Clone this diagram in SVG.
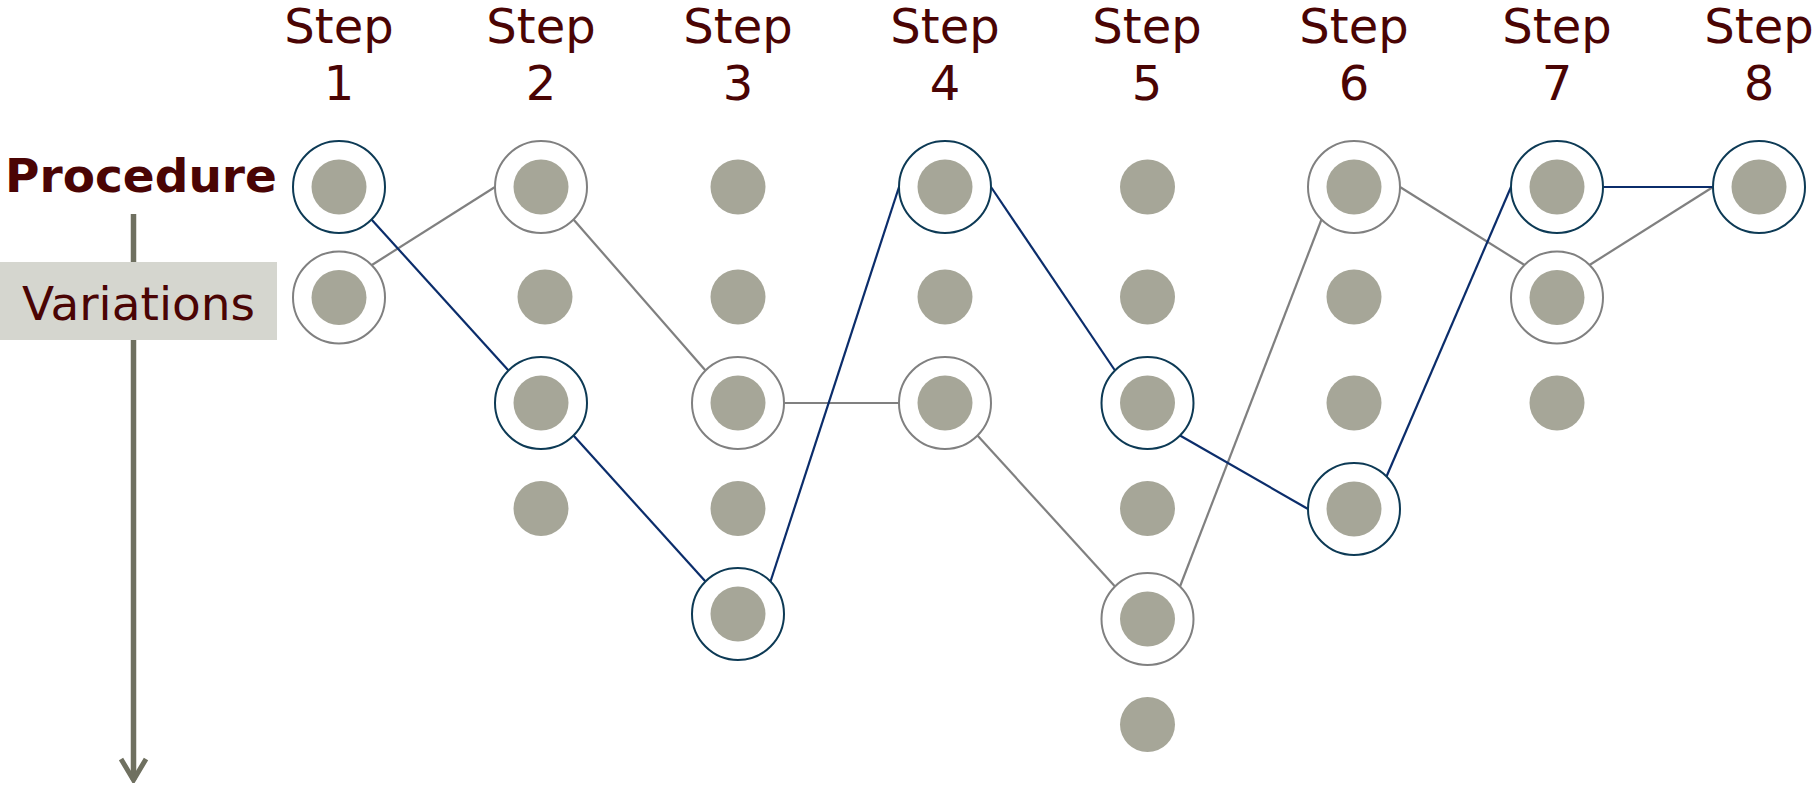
<svg xmlns="http://www.w3.org/2000/svg" width="1812" height="785" viewBox="0 0 1812 785">
<defs>
<style>
.lbl{font-family:"DejaVu Sans",Verdana,sans-serif;font-size:48px;fill:#4a0404;text-anchor:middle}
.dot{fill:#a6a698}
.rb{fill:#fff;stroke:#0d3a55;stroke-width:2}
.rg{fill:#fff;stroke:#808080;stroke-width:2}
.cb{stroke:#0b2d6b;stroke-width:2.2;fill:none}
.cg{stroke:#808080;stroke-width:2.2;fill:none}
</style>
<marker id="chev" viewBox="0 0 26 30" refX="23" refY="15" markerWidth="26" markerHeight="30" markerUnits="userSpaceOnUse" orient="auto">
<polyline points="2,2.5 23,15 2,27.5" fill="none" stroke="#6f7060" stroke-width="5" stroke-linejoin="miter"/>
</marker>
</defs>
<rect width="1812" height="785" fill="#fff"/>

<g id="axis">
<line x1="133.5" y1="214" x2="133.5" y2="780" stroke="#6f7060" stroke-width="5.5" marker-end="url(#chev)"/>
</g>

<g id="labels">
<text class="lbl" x="339" y="43">Step</text><text class="lbl" x="339" y="100">1</text>
<text class="lbl" x="541" y="43">Step</text><text class="lbl" x="541" y="100">2</text>
<text class="lbl" x="738" y="43">Step</text><text class="lbl" x="738" y="100">3</text>
<text class="lbl" x="945" y="43">Step</text><text class="lbl" x="945" y="100">4</text>
<text class="lbl" x="1147" y="43">Step</text><text class="lbl" x="1147" y="100">5</text>
<text class="lbl" x="1354" y="43">Step</text><text class="lbl" x="1354" y="100">6</text>
<text class="lbl" x="1557" y="43">Step</text><text class="lbl" x="1557" y="100">7</text>
<text class="lbl" x="1759" y="43">Step</text><text class="lbl" x="1759" y="100">8</text>
<text class="lbl" x="141" y="192" style="font-weight:bold;font-size:47px">Procedure</text>
</g>

<g id="variations">
<rect x="0" y="262" width="277" height="78" fill="#d5d6cf"/>
<text class="lbl" x="138.5" y="320" style="font-size:47px">Variations</text>
</g>

<g id="connectors">
<line class="cg" x1="371.5" y1="265.2" x2="495" y2="187"/>
<line class="cg" x1="573.5" y1="219.5" x2="705.5" y2="370.5"/>
<line class="cg" x1="784" y1="403" x2="899" y2="403"/>
<line class="cg" x1="977.5" y1="435.5" x2="1115" y2="586.5"/>
<line class="cg" x1="1180" y1="586.5" x2="1321.5" y2="219.5"/>
<line class="cg" x1="1400" y1="187" x2="1524.5" y2="265"/>
<line class="cg" x1="1589.5" y1="265" x2="1713" y2="187"/>
<line class="cb" x1="371.5" y1="219.5" x2="508.5" y2="370.5"/>
<line class="cb" x1="573.5" y1="435.5" x2="705.5" y2="581.5"/>
<line class="cb" x1="770.5" y1="581.5" x2="899" y2="187"/>
<line class="cb" x1="991" y1="187" x2="1115" y2="370.5"/>
<line class="cb" x1="1180" y1="435.5" x2="1308" y2="509"/>
<line class="cb" x1="1386.5" y1="476.5" x2="1511" y2="187"/>
<line class="cb" x1="1603" y1="187" x2="1713" y2="187"/>
</g>

<g id="s1r1"><circle class="rb" cx="339" cy="187" r="46"/><circle class="dot" cx="339" cy="187" r="27.5"/></g>
<g id="s1r2"><circle class="rg" cx="339" cy="297.5" r="46"/><circle class="dot" cx="339" cy="297.5" r="27.5"/></g>

<g id="s2r1"><circle class="rg" cx="541" cy="187" r="46"/><circle class="dot" cx="541" cy="187" r="27.5"/></g>
<g id="s2r2"><circle class="dot" cx="545" cy="297" r="27.5"/></g>
<g id="s2r3"><circle class="rb" cx="541" cy="403" r="46"/><circle class="dot" cx="541" cy="403" r="27.5"/></g>
<g id="s2r4"><circle class="dot" cx="541" cy="508.5" r="27.5"/></g>

<g id="s3r1"><circle class="dot" cx="738" cy="187" r="27.5"/></g>
<g id="s3r2"><circle class="dot" cx="738" cy="297" r="27.5"/></g>
<g id="s3r3"><circle class="rg" cx="738" cy="403" r="46"/><circle class="dot" cx="738" cy="403" r="27.5"/></g>
<g id="s3r4"><circle class="dot" cx="738" cy="508.5" r="27.5"/></g>
<g id="s3r5"><circle class="rb" cx="738" cy="614" r="46"/><circle class="dot" cx="738" cy="614" r="27.5"/></g>

<g id="s4r1"><circle class="rb" cx="945" cy="187" r="46"/><circle class="dot" cx="945" cy="187" r="27.5"/></g>
<g id="s4r2"><circle class="dot" cx="945" cy="297" r="27.5"/></g>
<g id="s4r3"><circle class="rg" cx="945" cy="403" r="46"/><circle class="dot" cx="945" cy="403" r="27.5"/></g>

<g id="s5r1"><circle class="dot" cx="1147.5" cy="187" r="27.5"/></g>
<g id="s5r2"><circle class="dot" cx="1147.5" cy="297" r="27.5"/></g>
<g id="s5r3"><circle class="rb" cx="1147.5" cy="403" r="46"/><circle class="dot" cx="1147.5" cy="403" r="27.5"/></g>
<g id="s5r4"><circle class="dot" cx="1147.5" cy="508.5" r="27.5"/></g>
<g id="s5r5"><circle class="rg" cx="1147.5" cy="619" r="46"/><circle class="dot" cx="1147.5" cy="619" r="27.5"/></g>
<g id="s5r6"><circle class="dot" cx="1147.5" cy="724.5" r="27.5"/></g>

<g id="s6r1"><circle class="rg" cx="1354" cy="187" r="46"/><circle class="dot" cx="1354" cy="187" r="27.5"/></g>
<g id="s6r2"><circle class="dot" cx="1354" cy="297" r="27.5"/></g>
<g id="s6r3"><circle class="dot" cx="1354" cy="403" r="27.5"/></g>
<g id="s6r4"><circle class="rb" cx="1354" cy="509" r="46"/><circle class="dot" cx="1354" cy="509" r="27.5"/></g>

<g id="s7r1"><circle class="rb" cx="1557" cy="187" r="46"/><circle class="dot" cx="1557" cy="187" r="27.5"/></g>
<g id="s7r2"><circle class="rg" cx="1557" cy="297.5" r="46"/><circle class="dot" cx="1557" cy="297.5" r="27.5"/></g>
<g id="s7r3"><circle class="dot" cx="1557" cy="403" r="27.5"/></g>

<g id="s8r1"><circle class="rb" cx="1759" cy="187" r="46"/><circle class="dot" cx="1759" cy="187" r="27.5"/></g>
</svg>
